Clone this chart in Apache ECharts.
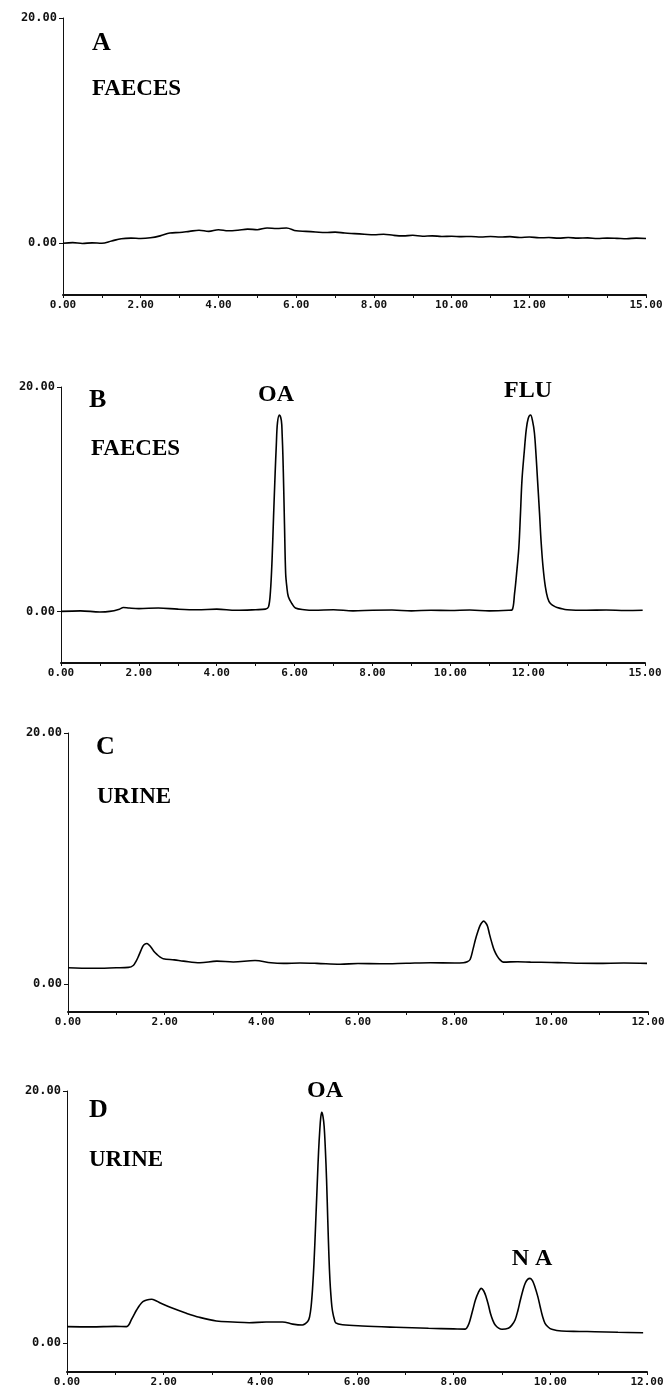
<!DOCTYPE html>
<html>
<head>
<meta charset="utf-8">
<script src="https://cdn.jsdelivr.net/npm/echarts@6/dist/echarts.min.js"></script>
<style>html,body{margin:0;padding:0;background:#fff}#c{width:672px;height:1394px}</style>
</head>
<body>
<div id="c"></div>
<script>
// ---------- DATA ----------
const panelLetters = ['A', 'B', 'C', 'D'];
const sampleNames = ['FAECES', 'FAECES', 'URINE', 'URINE'];
const yTickValues = [0, 20];
const xLabelsAB = [0, 2, 4, 6, 8, 10, 12, 15];
const xLabelsCD = [0, 2, 4, 6, 8, 10, 12];
const xTicksAB = [0,1,2,3,4,5,6,7,8,9,10,11,12,13,14,15];
const xTicksCD = [0,1,2,3,4,5,6,7,8,9,10,11,12];

// Panel A: faeces blank (time, min / signal)
const timesA = [0,0.25,0.5,0.75,1.0,1.25,1.5,1.75,2.0,2.25,2.5,2.75,3.0,3.25,3.5,3.75,4.0,4.25,4.5,4.75,5.0,5.25,5.5,5.75,6.0,6.25,6.5,6.75,7.0,7.25,7.5,7.75,8.0,8.25,8.5,8.75,9.0,9.25,9.5,9.75,10.0,10.25,10.5,10.75,11.0,11.25,11.5,11.75,12.0,12.25,12.5,12.75,13.0,13.25,13.5,13.75,14.0,14.25,14.5,14.75,15.0];
const signalA = [0.0,0.05,-0.02,0.03,0.0,0.2,0.4,0.45,0.42,0.48,0.65,0.9,0.95,1.05,1.15,1.05,1.2,1.1,1.15,1.25,1.2,1.35,1.3,1.35,1.1,1.05,1.0,0.95,0.98,0.9,0.85,0.8,0.75,0.8,0.7,0.65,0.7,0.62,0.65,0.6,0.62,0.58,0.6,0.55,0.6,0.55,0.58,0.5,0.55,0.48,0.5,0.45,0.5,0.45,0.47,0.42,0.45,0.43,0.4,0.45,0.42];

// Panel B: spiked faeces (OA, FLU)
const timesB = [0,0.5,1.0,1.25,1.5,1.6,1.75,2.0,2.5,3.0,3.5,4.0,4.5,5.0,5.25,5.33,5.38,5.42,5.46,5.50,5.53,5.56,5.61,5.66,5.68,5.70,5.72,5.74,5.77,5.80,5.84,5.93,6.02,6.25,6.5,7.0,7.5,8.0,8.5,9.0,9.5,10.0,10.5,11.0,11.5,11.59,11.65,11.70,11.76,11.80,11.84,11.90,11.95,12.0,12.06,12.11,12.16,12.20,12.24,12.29,12.33,12.38,12.44,12.50,12.57,12.7,12.83,13.0,13.5,14.0,14.5,14.94];
const signalB = [0.0,0.05,-0.05,0.0,0.2,0.35,0.3,0.25,0.3,0.2,0.15,0.2,0.1,0.15,0.2,0.4,1.8,4.5,8.5,12.3,14.8,16.8,17.5,17.0,15.8,13.8,11.0,7.8,3.4,2.2,1.3,0.7,0.3,0.15,0.1,0.15,0.05,0.1,0.12,0.05,0.1,0.08,0.12,0.05,0.1,0.15,1.6,3.3,5.7,8.6,11.7,14.3,16.2,17.2,17.5,17.0,15.9,14.0,11.7,8.8,6.3,4.0,2.2,1.2,0.7,0.4,0.27,0.15,0.1,0.12,0.08,0.1];

// Panel C: urine blank
const timesC = [0,0.5,1.0,1.25,1.35,1.41,1.46,1.51,1.55,1.59,1.63,1.68,1.73,1.78,1.84,1.9,1.97,2.2,2.39,2.73,3.08,3.42,3.87,4.2,4.46,4.8,5.15,5.63,6.0,6.46,7.0,7.5,8.0,8.18,8.26,8.32,8.38,8.43,8.48,8.52,8.56,8.6,8.64,8.68,8.72,8.77,8.82,8.88,8.94,9.01,9.3,9.57,10.0,10.26,10.6,10.95,11.5,11.98];
const signalC = [1.32,1.28,1.32,1.35,1.5,1.85,2.25,2.7,3.04,3.2,3.25,3.12,2.9,2.62,2.38,2.18,2.04,1.95,1.85,1.72,1.85,1.78,1.9,1.72,1.67,1.7,1.67,1.6,1.66,1.64,1.68,1.72,1.7,1.72,1.8,1.98,2.8,3.57,4.2,4.63,4.9,5.03,4.9,4.63,4.0,3.3,2.7,2.25,1.95,1.77,1.8,1.77,1.74,1.72,1.68,1.67,1.7,1.67];

// Panel D: spiked urine (OA, NA)
const timesD = [0,0.5,1.0,1.23,1.28,1.33,1.38,1.44,1.5,1.57,1.65,1.75,1.83,1.92,2.19,2.47,2.74,3.09,3.43,3.77,4.12,4.46,4.67,4.87,4.98,5.02,5.05,5.08,5.11,5.145,5.18,5.205,5.23,5.25,5.27,5.295,5.32,5.345,5.37,5.395,5.42,5.44,5.46,5.48,5.5,5.53,5.56,5.7,6.11,6.8,7.48,8.0,8.24,8.30,8.34,8.40,8.45,8.51,8.57,8.62,8.67,8.72,8.76,8.81,8.86,8.93,9.0,9.13,9.2,9.27,9.33,9.38,9.43,9.48,9.53,9.58,9.63,9.68,9.74,9.79,9.84,9.89,9.96,10.03,10.23,10.6,10.92,11.4,11.92];
const signalD = [1.3,1.28,1.32,1.3,1.45,1.83,2.2,2.62,2.98,3.28,3.42,3.47,3.38,3.2,2.75,2.36,2.04,1.75,1.67,1.61,1.67,1.67,1.5,1.43,1.7,2.1,2.88,4.3,6.33,9.5,12.9,15.2,16.9,17.9,18.3,18.0,17.2,15.4,13.0,9.8,6.8,5.0,3.8,2.9,2.4,1.9,1.6,1.45,1.35,1.25,1.17,1.12,1.1,1.4,1.83,2.7,3.41,4.0,4.34,4.15,3.68,3.0,2.36,1.8,1.43,1.18,1.09,1.17,1.4,1.83,2.6,3.41,4.15,4.74,5.05,5.13,4.95,4.47,3.7,2.88,2.1,1.56,1.25,1.09,0.95,0.92,0.9,0.85,0.82];

// ---------- LAYOUT ----------
const panels = [
  {grid:{left:63, top:18, width:583, height:277}, xMax:15, yMin:-4.6, t:timesA, v:signalA, xl:xLabelsAB, xt:xTicksAB},
  {grid:{left:61, top:387, width:584, height:276}, xMax:15, yMin:-4.6, t:timesB, v:signalB, xl:xLabelsAB, xt:xTicksAB},
  {grid:{left:68, top:733, width:580, height:279}, xMax:12, yMin:-2.2, t:timesC, v:signalC, xl:xLabelsCD, xt:xTicksCD},
  {grid:{left:67, top:1091, width:580, height:281}, xMax:12, yMin:-2.3, t:timesD, v:signalD, xl:xLabelsCD, xt:xTicksCD}
];

const mono = 'DejaVu Sans Mono';
const serif = 'Liberation Serif';
const ink = '#111';

const grid = [], xAxis = [], yAxis = [], series = [];
panels.forEach((p, i) => {
  grid.push(Object.assign({containLabel:false}, p.grid));
  xAxis.push({
    type:'value', gridIndex:i, min:0, max:p.xMax,
    axisLine:{show:true, onZero:false, lineStyle:{color:ink, width:2}},
    axisTick:{show:true, length:3, customValues:p.xt, lineStyle:{color:ink, width:1}},
    axisLabel:{show:true, customValues:p.xl, margin:5, color:ink, fontFamily:mono, fontWeight:'bold', fontSize:11,
      formatter: v => v.toFixed(2)},
    splitLine:{show:false}
  });
  yAxis.push({
    type:'value', gridIndex:i, min:p.yMin, max:20,
    axisLine:{show:true, onZero:false, lineStyle:{color:ink, width:1}},
    axisTick:{show:true, length:4, customValues:yTickValues, lineStyle:{color:ink, width:1}},
    axisLabel:{show:true, customValues:yTickValues, margin:6, color:ink, fontFamily:mono, fontWeight:'bold', fontSize:12,
      formatter: v => v.toFixed(2)},
    splitLine:{show:false}
  });
  series.push({
    type:'line', xAxisIndex:i, yAxisIndex:i, showSymbol:false, smooth:0.35,
    lineStyle:{color:'#000', width:1.6}, data:p.t.map((t, k) => [t, p.v[k]])
  });
});

function txt(x, y, s, size, align) {
  return {type:'text', x:x, y:y, style:{text:s, fill:'#000', font:'bold ' + size + 'px "' + serif + '"', textAlign:align || 'left', textVerticalAlign:'middle'}};
}
const graphic = [
  txt(92, 43, panelLetters[0], 26), txt(92, 89, sampleNames[0], 23),
  txt(89, 400, panelLetters[1], 26), txt(91, 449, sampleNames[1], 23),
  txt(276, 395, 'OA', 24, 'center'), txt(528, 391, 'FLU', 24, 'center'),
  txt(96, 747, panelLetters[2], 26), txt(97, 797, sampleNames[2], 23),
  txt(89, 1110, panelLetters[3], 26), txt(89, 1160, sampleNames[3], 23),
  txt(325, 1091, 'OA', 24, 'center'), txt(532, 1259, 'N A', 24, 'center')
];

const chart = echarts.init(document.getElementById('c'), null, {renderer:'canvas'});
chart.setOption({backgroundColor:'#fff', animation:false, grid, xAxis, yAxis, series, graphic});
</script>
</body>
</html>
